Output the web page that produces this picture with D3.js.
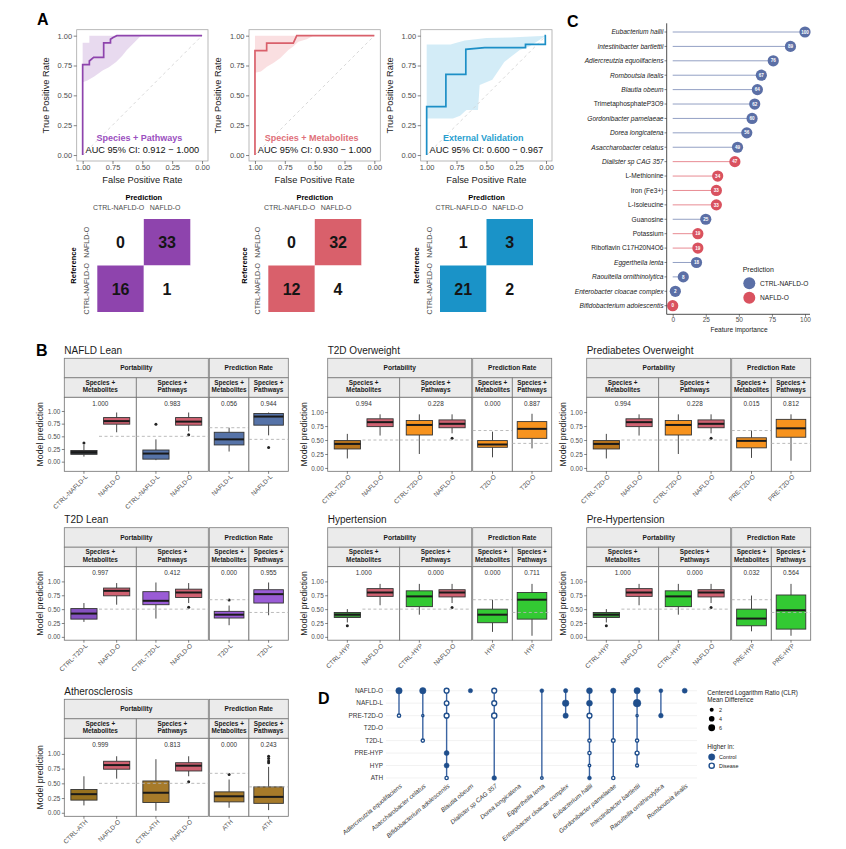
<!DOCTYPE html>
<html><head><meta charset="utf-8">
<script src="https://cdn.jsdelivr.net/npm/d3@7"></script>
<style>body{margin:0;background:#fff}svg{display:block;font-family:"Liberation Sans",Arial,Helvetica,sans-serif}</style>
</head><body><svg id="chart" width="846" height="849"></svg>
<script>
// ================= DATA =================
// Panel A – ROC curves (x = specificity axis shown reversed, y = TPR)
const rocTitles = ["Species + Pathways", "Species + Metabolites", "External Validation"];
const rocAUC = ["AUC 95% CI: 0.912 \u2212 1.000", "AUC 95% CI: 0.930 \u2212 1.000", "AUC 95% CI: 0.600 \u2212 0.967"];
const rocCurve1 = [[1,0],[1,0.758],[0.944,0.758],[0.944,0.788],[0.908,0.818],[0.824,0.818],[0.824,0.939],[0.767,0.939],[0.767,0.97],[0.745,0.985],[0.714,1],[0,1]];
const rocCurve2 = [[1,0],[1,0.875],[0.902,0.875],[0.902,0.9375],[0.679,0.9375],[0.65,1],[0,1]];
const rocCurve3 = [[1,0],[1,0.405],[0.839,0.405],[0.839,0.676],[0.672,0.676],[0.672,0.885],[0.514,0.9],[0.172,0.9],[0.172,0.927],[0.006,0.927],[0.006,1],[0,1]];
const rocUpper1 = [[1,0.94],[0.944,0.94],[0.944,1],[0,1]];
const rocLower1 = [[1,0.61],[0.96,0.625],[0.90,0.66],[0.83,0.71],[0.78,0.735],[0.72,0.78],[0.67,0.83],[0.63,0.88],[0.58,0.93],[0.52,0.99],[0.5,1],[0,1]];
const rocUpper2 = [[1,1],[0,1]];
const rocLower2 = [[1,0.69],[0.95,0.70],[0.9,0.74],[0.846,0.77],[0.79,0.81],[0.72,0.88],[0.68,0.91],[0.637,0.95],[0.567,0.97],[0.51,1],[0,1]];
const rocUpper3 = [[1,0.927],[0.8,0.927],[0.75,0.94],[0.68,0.96],[0.5,0.98],[0.3,0.985],[0,1]];
const rocLower3 = [[1,0.307],[0.78,0.307],[0.72,0.33],[0.667,0.377],[0.57,0.377],[0.556,0.587],[0.45,0.63],[0.35,0.78],[0.22,0.88],[0.14,0.91],[0,1]];
const rocColors = ["#8e44ad", "#d9606b", "#1d8fc6"];
const rocTitleColors = ["#9b4fc0", "#e0707a", "#2a9fd0"];
const rocRibbonColors = ["#8e44ad", "#e8606a", "#6cc0e6"];
const axisTicks01 = [0, 0.25, 0.5, 0.75, 1];
// Confusion matrices: [refNAFLD-predCTRL, refNAFLD-predNAFLD, refCTRL-predCTRL, refCTRL-predNAFLD]
const cmClasses = ["CTRL-NAFLD-O", "NAFLD-O"];
const cmCounts = [[0,33,16,1],[0,32,12,4],[1,3,21,2]];
const cmColors = ["#8e44ad", "#d9606b", "#1a93c8"];

// Panel C – feature importance
const cFeatures = ["Eubacterium hallii","Intestinibacter bartlettii","Adlercreutzia equolifaciens","Romboutsia ilealis","Blautia obeum","TrimetaphosphateP3O9","Gordonibacter pamelaeae","Dorea longicatena","Asaccharobacter celatus","Dialister sp CAG 357","L-Methionine","Iron (Fe3+)","L-Isoleucine","Guanosine","Potassium","Riboflavin C17H20N4O6","Eggerthella lenta","Raoultella ornithinolytica","Enterobacter cloacae complex","Bifidobacterium adolescentis"];
const cImportance = [100,89,76,67,64,62,60,56,49,47,34,33,33,25,19,19,18,8,2,0];
const cPrediction = ["CTRL-NAFLD-O","CTRL-NAFLD-O","CTRL-NAFLD-O","CTRL-NAFLD-O","CTRL-NAFLD-O","CTRL-NAFLD-O","CTRL-NAFLD-O","CTRL-NAFLD-O","CTRL-NAFLD-O","NAFLD-O","NAFLD-O","NAFLD-O","NAFLD-O","CTRL-NAFLD-O","NAFLD-O","NAFLD-O","CTRL-NAFLD-O","CTRL-NAFLD-O","CTRL-NAFLD-O","NAFLD-O"];
const cItalic = [1,1,1,1,1,0,1,1,1,1,0,0,0,0,0,0,1,1,1,1];
const cTicks = [0,25,50,75,100];
const cPredClasses = ["CTRL-NAFLD-O","NAFLD-O"];
const cDotColors = ["#5b6fa6","#d9525f"];
const cLineColors = ["#93a0c4","#e88b93"];

// Panel B – box plots  [lowWhisker, q1, median, q3, highWhisker]
const bPanels = ["NAFLD Lean","T2D Overweight","Prediabetes Overweight","T2D Lean","Hypertension","Pre-Hypertension","Atherosclerosis"];
const bCategories = [
  ["CTRL-NAFLD-L","NAFLD-O","CTRL-NAFLD-L","NAFLD-O","NAFLD-L","NAFLD-L"],
  ["CTRL-T2D-O","NAFLD-O","CTRL-T2D-O","NAFLD-O","T2D-O","T2D-O"],
  ["CTRL-T2D-O","NAFLD-O","CTRL-T2D-O","NAFLD-O","PRE-T2D-O","PRE-T2D-O"],
  ["CTRL-T2D-L","NAFLD-O","CTRL-T2D-L","NAFLD-O","T2D-L","T2D-L"],
  ["CTRL-HYP","NAFLD-O","CTRL-HYP","NAFLD-O","HYP","HYP"],
  ["CTRL-HYP","NAFLD-O","CTRL-HYP","NAFLD-O","PRE-HYP","PRE-HYP"],
  ["CTRL-ATH","NAFLD-O","CTRL-ATH","NAFLD-O","ATH","ATH"]];
const bStats = [
  [[0.10,0.145,0.185,0.22,0.33],[0.58,0.74,0.80,0.87,0.97],[0.03,0.05,0.16,0.23,0.44],[0.60,0.72,0.79,0.87,0.97],[0.20,0.33,0.44,0.58,0.67],[0.52,0.72,0.89,0.95,0.97]],
  [[0.17,0.34,0.43,0.49,0.61],[0.58,0.74,0.82,0.88,0.96],[0.25,0.59,0.77,0.85,0.96],[0.62,0.72,0.79,0.86,0.96],[0.19,0.37,0.42,0.49,0.65],[0.35,0.53,0.70,0.83,0.97]],
  [[0.17,0.34,0.43,0.49,0.61],[0.58,0.74,0.82,0.88,0.96],[0.25,0.59,0.77,0.85,0.96],[0.62,0.72,0.79,0.86,0.96],[0.18,0.36,0.485,0.54,0.67],[0.13,0.55,0.71,0.87,0.96]],
  [[0.27,0.32,0.42,0.51,0.61],[0.58,0.74,0.83,0.88,0.97],[0.33,0.58,0.65,0.815,0.98],[0.61,0.71,0.80,0.86,0.97],[0.21,0.34,0.40,0.46,0.565],[0.39,0.61,0.77,0.85,0.98]],
  [[0.26,0.35,0.40,0.44,0.50],[0.57,0.73,0.80,0.87,0.955],[0.40,0.545,0.73,0.83,0.955],[0.61,0.72,0.80,0.85,0.955],[0.09,0.255,0.40,0.50,0.67],[0.02,0.32,0.67,0.80,0.955]],
  [[0.26,0.35,0.40,0.44,0.50],[0.57,0.73,0.80,0.87,0.955],[0.40,0.545,0.73,0.83,0.955],[0.61,0.72,0.80,0.85,0.955],[0.10,0.20,0.33,0.50,0.745],[0.02,0.14,0.48,0.755,0.955]],
  [[0.125,0.215,0.316,0.395,0.62],[0.58,0.74,0.81,0.875,0.96],[0.035,0.175,0.34,0.54,0.91],[0.62,0.71,0.80,0.85,0.96],[0.085,0.185,0.28,0.355,0.565],[0.045,0.16,0.27,0.44,0.78]]];
const bOutliers = [
  [[0.37],[],[0.74],[0.53],[],[0.28]],
  [[],[],[],[0.53],[],[]],
  [[],[],[],[0.53],[],[]],
  [[],[],[],[0.535],[0.665],[]],
  [[0.20],[],[],[0.53],[],[]],
  [[0.20],[],[],[0.53],[],[]],
  [[],[],[],[0.525],[0.65],[0.85,0.88,0.92,0.96]]];
const bLabels = [["1.000","0.983","0.056","0.944"],["0.994","0.228","0.000","0.887"],["0.994","0.228","0.015","0.812"],["0.997","0.412","0.000","0.955"],["1.000","0.000","0.000","0.711"],["1.000","0.000","0.032","0.564"],["0.999","0.813","0.000","0.243"]];
const bGroups = ["Portability","Prediction Rate"];
const bSubStrips = [["Species +","Metabolites"],["Species +","Pathways"],["Species +","Metabolites"],["Species +","Pathways"]];
const bThresholds = [0.5, 0.5, 0.67, 0.44];
const bCtrlFill = ["#353940","#b8751d","#b8751d","#8551bf","#3b923b","#3b923b","#97711f"];
const bGroupFill = ["#5673a8","#f7931e","#f7931e","#9a5cd6","#33c933","#33c933","#a67a2a"];
const bCaseFill = "#cf6171";

// Panel D – CLR differences
const dSpecies = ["Adlercreutzia equolifaciens","Asaccharobacter celatus","Bifidobacterium adolescentis","Blautia obeum","Dialister sp CAG 357","Dorea longicatena","Eggerthella lenta","Enterobacter cloacae complex","Eubacterium hallii","Gordonibacter pamelaeae","Intestinibacter bartlettii","Raoultella ornithinolytica","Romboutsia ilealis"];
const dGroups = ["NAFLD-O","NAFLD-L","PRE-T2D-O","T2D-O","T2D-L","PRE-HYP","HYP","ATH"];
const dDotSpecies = [0,0, 1,1,1, 2,2,2,2,2,2, 3, 4,4,4,4, 6,6, 7,7,7, 8,8,8,8,8,8,8, 9,9,9, 10,10,10,10,10,10, 11,11, 12];
const dDotGroup = ["NAFLD-O","PRE-T2D-O", "NAFLD-O","PRE-T2D-O","T2D-L", "NAFLD-O","NAFLD-L","PRE-T2D-O","PRE-HYP","HYP","ATH", "NAFLD-O", "NAFLD-O","NAFLD-L","PRE-T2D-O","ATH", "NAFLD-O","ATH", "NAFLD-O","NAFLD-L","PRE-T2D-O", "NAFLD-O","NAFLD-L","PRE-T2D-O","T2D-L","PRE-HYP","HYP","ATH", "NAFLD-O","T2D-L","ATH", "NAFLD-O","NAFLD-L","PRE-T2D-O","T2D-L","PRE-HYP","HYP", "NAFLD-O","PRE-T2D-O", "NAFLD-O"];
const dDotCLR = [5.2,2.8, 5.2,1.6,2.8, 5,4.5,5,3.2,3.2,2.8, 2.4, 5,5,5.5,2.8, 2,2, 2.4,5.5,3.6, 4.5,4.5,5,2.8,2.8,2,2, 3.6,3.2,2.8, 5,7.4,1.6,2.8,3.6,2.4, 2,2.8, 3.2];
const dDotHigher = ["Control","Disease", "Control","Disease","Disease", "Disease","Disease","Disease","Control","Control","Disease", "Control", "Disease","Disease","Disease","Control", "Control","Disease", "Control","Control","Control", "Control","Control","Disease","Disease","Disease","Disease","Control", "Control","Disease","Disease", "Control","Control","Disease","Disease","Disease","Disease", "Control","Control", "Control"];
const dSizeLegend = [2,4,6];
const dHigherLevels = ["Control","Disease"];

// ================= DRAWING =================
const FONT = '"Liberation Sans",Arial,Helvetica,sans-serif';
const svg = d3.select("#chart");
svg.append("rect").attr("width",846).attr("height",849).attr("fill","#fff");

function txt(p, x, y, s, o = {}) {
  const t = p.append("text").attr("x", x).attr("y", y).text(s)
    .attr("font-size", o.size || 7).attr("fill", o.fill || "#000")
    .attr("text-anchor", o.anchor || "start").attr("font-family", FONT);
  if (o.weight) t.attr("font-weight", o.weight);
  if (o.italic) t.attr("font-style", "italic");
  if (o.dy) t.attr("dy", o.dy);
  if (o.rotate != null) t.attr("transform", `rotate(${o.rotate},${x},${y})`);
  return t;
}
function styleAxis(sel, size, color) {
  sel.attr("font-family", FONT);
  sel.select(".domain").remove();
  sel.selectAll(".tick line").attr("stroke", "#333").attr("stroke-width", 0.6);
  sel.selectAll(".tick text").attr("font-size", size).attr("fill", color || "#4d4d4d");
}

// Panel letters
txt(svg, 37, 25, "A", {size: 16, weight: "bold"});
txt(svg, 36, 356, "B", {size: 16, weight: "bold"});
txt(svg, 567, 27, "C", {size: 16, weight: "bold"});
txt(svg, 318, 704, "D", {size: 16, weight: "bold"});

// ---------- Panel A ----------
const rocCurves = [rocCurve1, rocCurve2, rocCurve3];
const rocUppers = [rocUpper1, rocUpper2, rocUpper3];
const rocLowers = [rocLower1, rocLower2, rocLower3];
const rocLefts = [76.7, 249, 420.7];
rocTitles.forEach((title, i) => {
  const L = rocLefts[i], W = 131.3, T = 29.7, B = 161;
  const x = d3.scaleLinear().domain([1.05, -0.05]).range([L, L + W]);
  const y = d3.scaleLinear().domain([-0.05, 1.05]).range([B, T]);
  const ga = svg.append("g");
  const line = d3.line().x(d => x(d[0])).y(d => y(d[1]));
  const poly = rocUppers[i].concat(rocLowers[i].slice().reverse());
  ga.append("path").attr("d", line(poly) + "Z").attr("fill", rocRibbonColors[i]).attr("fill-opacity", i === 2 ? 0.3 : 0.2);
  ga.append("line").attr("x1", x(1)).attr("y1", y(0)).attr("x2", x(0)).attr("y2", y(1))
    .attr("stroke", "#cfcfcf").attr("stroke-width", 0.8).attr("stroke-dasharray", "3,3");
  ga.append("path").attr("d", line(rocCurves[i])).attr("fill", "none").attr("stroke", rocColors[i]).attr("stroke-width", 1.7);
  ga.append("rect").attr("x", L).attr("y", T).attr("width", W).attr("height", B - T).attr("fill", "none").attr("stroke", "#a8a8a8").attr("stroke-width", 0.8);
  const ya = ga.append("g").attr("transform", `translate(${L},0)`)
    .call(d3.axisLeft(y).tickValues(axisTicks01).tickFormat(d3.format(".2f")).tickSize(3).tickPadding(1.5));
  styleAxis(ya, 7.5);
  const xa = ga.append("g").attr("transform", `translate(0,${B})`)
    .call(d3.axisBottom(x).tickValues(axisTicks01).tickFormat(d3.format(".2f")).tickSize(3).tickPadding(1));
  styleAxis(xa, 7.5);
  txt(ga, L - 27.5, (T + B) / 2, "True Positive Rate", {size: 9.3, anchor: "middle", rotate: -90, fill: "#1a1a1a"});
  txt(ga, L + W / 2, 182.5, "False Positive Rate", {size: 9.3, anchor: "middle", fill: "#1a1a1a"});
  txt(ga, L + W / 2 - 3, 140.5, title, {size: 9, weight: "bold", anchor: "middle", fill: rocTitleColors[i]});
  txt(ga, L + W / 2, 153, rocAUC[i], {size: 9.2, anchor: "middle", fill: "#111"});

  // confusion matrix
  const gl = [97.3, 268.3, 440][i];
  const cxs = d3.scaleBand().domain(cmClasses).range([gl, gl + 93]);
  const cys = d3.scaleBand().domain(["NAFLD-O", "CTRL-NAFLD-O"]).range([219, 312]);
  const cells = [["NAFLD-O","CTRL-NAFLD-O"],["NAFLD-O","NAFLD-O"],["CTRL-NAFLD-O","CTRL-NAFLD-O"],["CTRL-NAFLD-O","NAFLD-O"]];
  cells.forEach((c, k) => {
    const correct = c[0] === c[1];
    ga.append("rect").attr("x", cxs(c[1])).attr("y", cys(c[0])).attr("width", cxs.bandwidth()).attr("height", cys.bandwidth())
      .attr("fill", correct ? cmColors[i] : "#fff");
    txt(ga, cxs(c[1]) + cxs.bandwidth() / 2, cys(c[0]) + cys.bandwidth() / 2, cmCounts[i][k], {size: 16, weight: "bold", anchor: "middle", dy: "0.36em", fill: "#151515"});
  });
  txt(ga, gl + 46.5, 200, "Prediction", {size: 7.5, weight: "bold", anchor: "middle"});
  cmClasses.forEach(c => txt(ga, cxs(c) + cxs.bandwidth() / 2 - 2, 210, c, {size: 7, anchor: "middle", fill: "#4d4d4d"}));
  ["NAFLD-O", "CTRL-NAFLD-O"].forEach(c => txt(ga, gl - 8, cys(c) + cys.bandwidth() / 2, c, {size: 7, anchor: "middle", rotate: -90, fill: "#4d4d4d"}));
  txt(ga, gl - 24, 265.5, "Reference", {size: 7.5, weight: "bold", anchor: "middle", rotate: -90, dy: "0.35em"});
});

// ---------- Panel C ----------
(function () {
  const gc = svg.append("g");
  const x = d3.scaleLinear().domain([0, 100]).range([672.7, 805]);
  const y = d3.scalePoint().domain(cFeatures).range([32, 305.7]);
  const col = d3.scaleOrdinal().domain(cPredClasses).range(cDotColors);
  const lcol = d3.scaleOrdinal().domain(cPredClasses).range(cLineColors);
  cFeatures.forEach((f, i) => {
    gc.append("line").attr("x1", x(0)).attr("x2", x(cImportance[i])).attr("y1", y(f)).attr("y2", y(f))
      .attr("stroke", lcol(cPrediction[i])).attr("stroke-width", 1);
  });
  cFeatures.forEach((f, i) => {
    gc.append("circle").attr("cx", x(cImportance[i])).attr("cy", y(f)).attr("r", 5.6).attr("fill", col(cPrediction[i]));
    txt(gc, x(cImportance[i]), y(f), cImportance[i], {size: 4.6, weight: "bold", anchor: "middle", dy: "0.36em", fill: "#fff"});
    txt(gc, 663.5, y(f), f, {size: 6.6, anchor: "end", dy: "0.35em", italic: cItalic[i] === 1, fill: "#1a1a1a"});
    gc.append("line").attr("x1", 664.5).attr("x2", 666.7).attr("y1", y(f)).attr("y2", y(f)).attr("stroke", "#333").attr("stroke-width", 0.6);
  });
  gc.append("line").attr("x1", 666.7).attr("x2", 666.7).attr("y1", 23.3).attr("y2", 314.3).attr("stroke", "#222").attr("stroke-width", 0.8);
  gc.append("line").attr("x1", 666.7).attr("x2", 810).attr("y1", 314.3).attr("y2", 314.3).attr("stroke", "#222").attr("stroke-width", 0.8);
  const xa = gc.append("g").attr("transform", "translate(0,314.3)").call(d3.axisBottom(x).tickValues(cTicks).tickSize(2.5).tickPadding(1));
  styleAxis(xa, 6.5);
  txt(gc, 739, 332, "Feature importance", {size: 6.6, anchor: "middle", fill: "#1a1a1a"});
  txt(gc, 742.7, 272, "Prediction", {size: 7, fill: "#1a1a1a"});
  cPredClasses.forEach((c, k) => {
    const yy = 283.3 + k * 14.4;
    gc.append("circle").attr("cx", 749.3).attr("cy", yy).attr("r", 6).attr("fill", col(c));
    txt(gc, 760, yy, c, {size: 6.6, dy: "0.35em", fill: "#1a1a1a"});
  });
})();

// ---------- Panel B ----------
const bRowTops = [358.3, 527.7, 699.3];
const bColLefts = [64.3, 327.7, 586.7];
const bPlotBottoms = [113, 112.5, 117];
const facetX = [[0, 72], [72, 144], [145, 184.6], [184.6, 224]];
const facetCats = [[0, 1], [2, 3], [4], [5]];
bPanels.forEach((name, p) => {
  const r = Math.floor(p / 3), c = p % 3;
  const x0 = bColLefts[c], S = bRowTops[r], Bt = S + bPlotBottoms[r], Tp = S + 39;
  const dom = p === 0 ? [-0.19, 1.27] : [-0.06, 1.265];
  const y = d3.scaleLinear().domain(dom).range([Bt, Tp]);
  const gp = svg.append("g");
  txt(gp, x0, S - 4.7, name, {size: 10, fill: "#1a1a1a"});
  [[0, 144], [145, 224]].forEach((gx, k) => {
    gp.append("rect").attr("x", x0 + gx[0]).attr("y", S).attr("width", gx[1] - gx[0]).attr("height", 19.5)
      .attr("fill", "#ebebeb").attr("stroke", "#7a7a7a").attr("stroke-width", 0.8);
    txt(gp, x0 + (gx[0] + gx[1]) / 2, S + 9.75, bGroups[k], {size: 6.6, weight: "bold", anchor: "middle", dy: "0.35em", fill: "#1a1a1a"});
  });
  facetX.forEach((fx, f) => {
    const fx0 = x0 + fx[0], fx1 = x0 + fx[1];
    gp.append("rect").attr("x", fx0).attr("y", S + 19.5).attr("width", fx1 - fx0).attr("height", 19.5)
      .attr("fill", "#ebebeb").attr("stroke", "#7a7a7a").attr("stroke-width", 0.8);
    txt(gp, (fx0 + fx1) / 2, S + 26.5, bSubStrips[f][0], {size: 6.4, weight: "bold", anchor: "middle", fill: "#1a1a1a"});
    txt(gp, (fx0 + fx1) / 2, S + 33.8, bSubStrips[f][1], {size: 6.4, weight: "bold", anchor: "middle", fill: "#1a1a1a"});
    gp.append("rect").attr("x", fx0).attr("y", Tp).attr("width", fx1 - fx0).attr("height", Bt - Tp)
      .attr("fill", "#fff").attr("stroke", "#6e6e6e").attr("stroke-width", 0.8);
    const cats = facetCats[f];
    const xs = d3.scalePoint().domain(cats).range([fx0, fx1]).padding(0.6);
    const bw = xs.step() * (f < 2 ? 0.8 : 0.9);
    cats.forEach(ci => {
      const s = bStats[p][ci], xc = xs(ci);
      const fill = ci === 0 ? bCtrlFill[p] : (ci === 1 || ci === 3) ? bCaseFill : bGroupFill[p];
      gp.append("line").attr("x1", xc).attr("x2", xc).attr("y1", y(s[4])).attr("y2", y(s[3])).attr("stroke", "#333").attr("stroke-width", 0.9);
      gp.append("line").attr("x1", xc).attr("x2", xc).attr("y1", y(s[1])).attr("y2", y(s[0])).attr("stroke", "#333").attr("stroke-width", 0.9);
      gp.append("rect").attr("x", xc - bw / 2).attr("y", y(s[3])).attr("width", bw).attr("height", y(s[1]) - y(s[3]))
        .attr("fill", fill).attr("stroke", "#333").attr("stroke-width", 0.9);
      gp.append("line").attr("x1", xc - bw / 2).attr("x2", xc + bw / 2).attr("y1", y(s[2])).attr("y2", y(s[2])).attr("stroke", "#1a1a1a").attr("stroke-width", 2);
      bOutliers[p][ci].forEach(o => gp.append("circle").attr("cx", xc).attr("cy", y(o)).attr("r", 1.5).attr("fill", "#222"));
      gp.append("line").attr("x1", xc).attr("x2", xc).attr("y1", Bt).attr("y2", Bt + 2.5).attr("stroke", "#333").attr("stroke-width", 0.6);
      gp.append("text").attr("transform", `translate(${xc + 2},${Bt + 4}) rotate(-45)`).attr("text-anchor", "end").attr("dy", "0.45em")
        .attr("font-size", 6.4).attr("font-family", FONT).attr("fill", "#4d4d4d").text(bCategories[p][ci]);
    });
    const tStart = f === 0 ? xs(0) + bw / 2 + 2 : fx0;
    gp.append("line").attr("x1", tStart).attr("x2", fx1).attr("y1", y(bThresholds[f])).attr("y2", y(bThresholds[f]))
      .attr("stroke", "#b3b3b3").attr("stroke-width", 0.9).attr("stroke-dasharray", "3,2.5");
    txt(gp, (fx0 + fx1) / 2, y(1.15), bLabels[p][f], {size: 6.4, anchor: "middle", dy: "0.35em", fill: "#333"});
  });
  const ya = gp.append("g").attr("transform", `translate(${x0},0)`)
    .call(d3.axisLeft(y).tickValues(axisTicks01).tickFormat(d3.format(".2f")).tickSize(2.5).tickPadding(1.5));
  styleAxis(ya, 6.4);
  txt(gp, x0 - 21, (Tp + Bt) / 2, "Model prediction", {size: 8.8, anchor: "middle", rotate: -90, fill: "#1a1a1a"});
});

// ---------- Panel D ----------
(function () {
  const gd = svg.append("g");
  const x = d3.scalePoint().domain(dSpecies).range([399, 684.7]);
  const y = d3.scalePoint().domain(dGroups).range([690.7, 778]);
  const rs = d3.scaleSqrt().domain([0, 8]).range([0, 3.96]);
  const navy = "#1f4e8c";
  dGroups.forEach(g => {
    gd.append("line").attr("x1", 386).attr("x2", 697).attr("y1", y(g)).attr("y2", y(g)).attr("stroke", "#ececec").attr("stroke-width", 0.7);
    txt(gd, 383, y(g), g, {size: 6.4, anchor: "end", dy: "0.35em", fill: "#333"});
  });
  dSpecies.forEach((s, si) => {
    const ys = dDotSpecies.map((d, k) => d === si ? y(dDotGroup[k]) : null).filter(v => v !== null);
    if (ys.length > 1) {
      gd.append("line").attr("x1", x(s)).attr("x2", x(s)).attr("y1", d3.min(ys)).attr("y2", d3.max(ys))
        .attr("stroke", "#3b64a2").attr("stroke-width", 1.4);
    }
    gd.append("text").attr("transform", `translate(${x(s) + 2},${785}) rotate(-40)`).attr("text-anchor", "end").attr("dy", "0.35em")
      .attr("font-size", 6.3).attr("font-style", "italic").attr("font-family", FONT).attr("fill", "#333").text(s);
  });
  dDotSpecies.forEach((si, k) => {
    const filled = dDotHigher[k] === "Control";
    const r = rs(dDotCLR[k]);
    gd.append("circle").attr("cx", x(dSpecies[si])).attr("cy", y(dDotGroup[k]))
      .attr("r", filled ? r : r - 0.7).attr("fill", filled ? navy : "#fff").attr("stroke", navy).attr("stroke-width", filled ? 0.5 : 1.4);
  });
  txt(gd, 707.3, 695, "Centered Logarithm Ratio (CLR)", {size: 6.3, fill: "#1a1a1a"});
  txt(gd, 707.3, 702, "Mean Difference", {size: 6.3, fill: "#1a1a1a"});
  dSizeLegend.forEach((v, k) => {
    const yy = 709.7 + k * 9;
    gd.append("circle").attr("cx", 711.7).attr("cy", yy).attr("r", rs(v)).attr("fill", "#000");
    txt(gd, 719, yy, v, {size: 5.4, dy: "0.35em", fill: "#1a1a1a"});
  });
  txt(gd, 707.3, 749, "Higher in:", {size: 6.3, fill: "#1a1a1a"});
  dHigherLevels.forEach((h, k) => {
    const yy = 757 + k * 8.7;
    gd.append("circle").attr("cx", 711.7).attr("cy", yy).attr("r", k === 0 ? 3.2 : 2.6)
      .attr("fill", k === 0 ? navy : "#fff").attr("stroke", navy).attr("stroke-width", k === 0 ? 0.5 : 1.4);
    txt(gd, 719, yy, h, {size: 5.4, dy: "0.35em", fill: "#1a1a1a"});
  });
})();
</script></body></html>
